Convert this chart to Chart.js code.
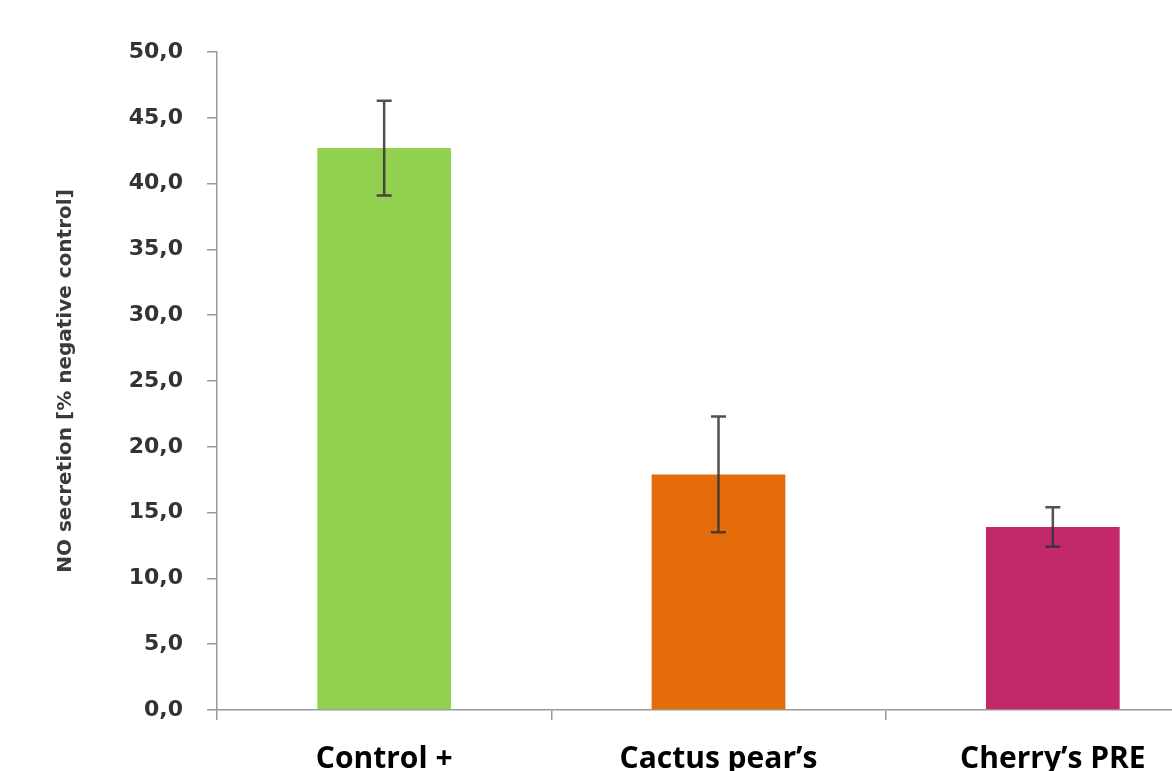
<!DOCTYPE html>
<html>
<head>
<meta charset="utf-8">
<script src="https://cdn.jsdelivr.net/npm/chart.js@4.4.1/dist/chart.umd.min.js"></script>
<style>
  html, body { margin: 0; padding: 0; background: #fff; }
  #wrap { width: 1172px; height: 771px; overflow: hidden; position: relative; }
  canvas { display: block; }
</style>
</head>
<body>
<div id="wrap">
  <canvas id="grafico" width="1220" height="800"></canvas>
</div>
<script>
// dados
const categorias = ["Control +", "Cactus pear\u2019s", "Cherry\u2019s PRE"];
const valores = [42.7, 17.9, 13.9];
const erros = [3.6, 4.4, 1.5];
const cores = ["#92D050", "#E46C0A", "#C2286A"];
const yTicks = [0, 5, 10, 15, 20, 25, 30, 35, 40, 45, 50];

// barras de erro desenhadas com as escalas do Chart.js
const barrasErro = {
  id: "barrasErro",
  afterDatasetsDraw(chart) {
    const ctx = chart.ctx;
    const y = chart.scales.y;
    const meta = chart.getDatasetMeta(0);
    ctx.save();
    ctx.strokeStyle = "rgba(50,50,50,0.85)";
    ctx.lineWidth = 2.5;
    meta.data.forEach((bar, i) => {
      const topo = y.getPixelForValue(valores[i] + erros[i]);
      const base = y.getPixelForValue(valores[i] - erros[i]);
      ctx.beginPath();
      ctx.moveTo(bar.x, topo);
      ctx.lineTo(bar.x, base);
      ctx.moveTo(bar.x - 7.5, topo);
      ctx.lineTo(bar.x + 7.5, topo);
      ctx.moveTo(bar.x - 7.5, base);
      ctx.lineTo(bar.x + 7.5, base);
      ctx.stroke();
    });
    ctx.restore();
  }
};

new Chart(document.getElementById("grafico"), {
  type: "bar",
  data: {
    labels: categorias,
    datasets: [{
      data: valores,
      backgroundColor: cores,
      borderWidth: 0,
      categoryPercentage: 1.0,
      barPercentage: 0.4
    }]
  },
  options: {
    responsive: false,
    animation: false,
    layout: { padding: { left: 50, top: 52, right: 0, bottom: 0 } },
    plugins: { legend: { display: false }, tooltip: { enabled: false } },
    scales: {
      x: {
        grid: { drawOnChartArea: false, tickLength: 10, color: "#9a9a9a", lineWidth: 1.5 },
        border: { color: "#9a9a9a", width: 1.5 },
        ticks: {
          color: "#000",
          padding: 21,
          font: { family: "'Open Sans'", size: 30, weight: "bold" },
          maxRotation: 0
        },
        afterFit(scale) { scale.height = 90; }
      },
      y: {
        min: 0,
        max: 50,
        afterBuildTicks(scale) { scale.ticks = yTicks.map(v => ({ value: v })); },
        grid: { drawOnChartArea: false, tickLength: 10, color: "#9a9a9a", lineWidth: 1.5 },
        border: { color: "#9a9a9a", width: 1.5 },
        ticks: {
          color: "#333",
          padding: 24,
          font: { family: "'DejaVu Sans'", size: 22, weight: "bold" },
          callback: v => v.toFixed(1).replace(".", ",")
        },
        title: {
          display: true,
          text: "NO secretion [% negative control]",
          color: "#3a3a3a",
          padding: { top: 4, bottom: 0 },
          font: { family: "'DejaVu Sans'", size: 20, weight: "bold" }
        },
        afterFit(scale) { scale.width = 167; }
      }
    }
  },
  plugins: [barrasErro]
});
</script>
</body>
</html>
